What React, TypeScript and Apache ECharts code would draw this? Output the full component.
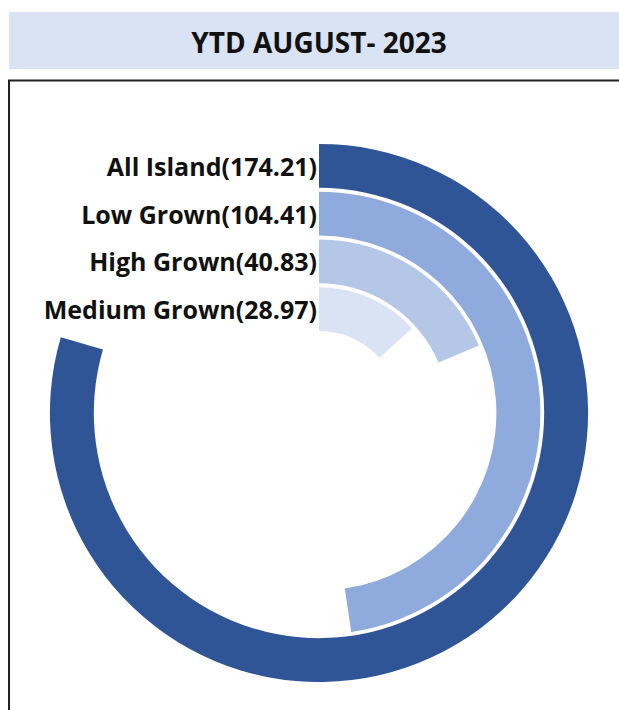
import React, { useEffect, useRef } from "react";
import * as echarts from "echarts";

const categories = ["All Island", "Low Grown", "High Grown", "Medium Grown"];
const values = [174.21, 104.41, 40.83, 28.97];
const colors = ["#2F5597", "#8FAADC", "#B4C7E7", "#DAE3F3"];
const titleText = "YTD AUGUST- 2023";

export default function App() {
  const ref = useRef<HTMLDivElement>(null);
  useEffect(() => {
    document.body.style.margin = "0";
    const chart = echarts.init(ref.current!, null, { renderer: "svg" });
    chart.setOption({
      animation: false,
      graphic: [
        { type: "rect", shape: { x: 9, y: 12, width: 620, height: 57 }, style: { fill: "#DAE3F3" }, z: 0 },
        {
          type: "text",
          x: 319,
          y: 42,
          style: {
            text: titleText,
            font: "bold 28px 'Open Sans'",
            fill: "#111",
            textAlign: "center",
            textVerticalAlign: "middle",
          },
          z: 1,
        },
        {
          type: "rect",
          shape: { x: 9, y: 80.5, width: 700, height: 700 },
          style: { fill: "none", stroke: "#222", lineWidth: 2 },
          z: 0,
        },
      ],
      polar: { center: [319, 413], radius: [80, 271] },
      angleAxis: {
        max: 219,
        startAngle: 90,
        clockwise: true,
        show: false,
      },
      radiusAxis: {
        type: "category",
        data: categories,
        inverse: true,
        axisLine: { show: false },
        axisTick: { show: false },
        splitLine: { show: false },
        axisLabel: {
          show: true,
          interval: 0,
          hideOverlap: false,
          margin: 2,
          color: "#111",
          fontFamily: "Open Sans",
          fontWeight: "bold",
          fontSize: 25,
          formatter: (v: string) => {
            const i = categories.indexOf(v);
            return `${v}(${values[i].toFixed(2)})`;
          },
        },
        z: 10,
      },
      series: [
        {
          type: "bar",
          coordinateSystem: "polar",
          barCategoryGap: "8%",
          data: values.map((v, i) => ({ value: v, itemStyle: { color: colors[i] } })),
        },
      ],
    });
    return () => chart.dispose();
  }, []);
  return <div ref={ref} style={{ width: 619, height: 710 }} />;
}
